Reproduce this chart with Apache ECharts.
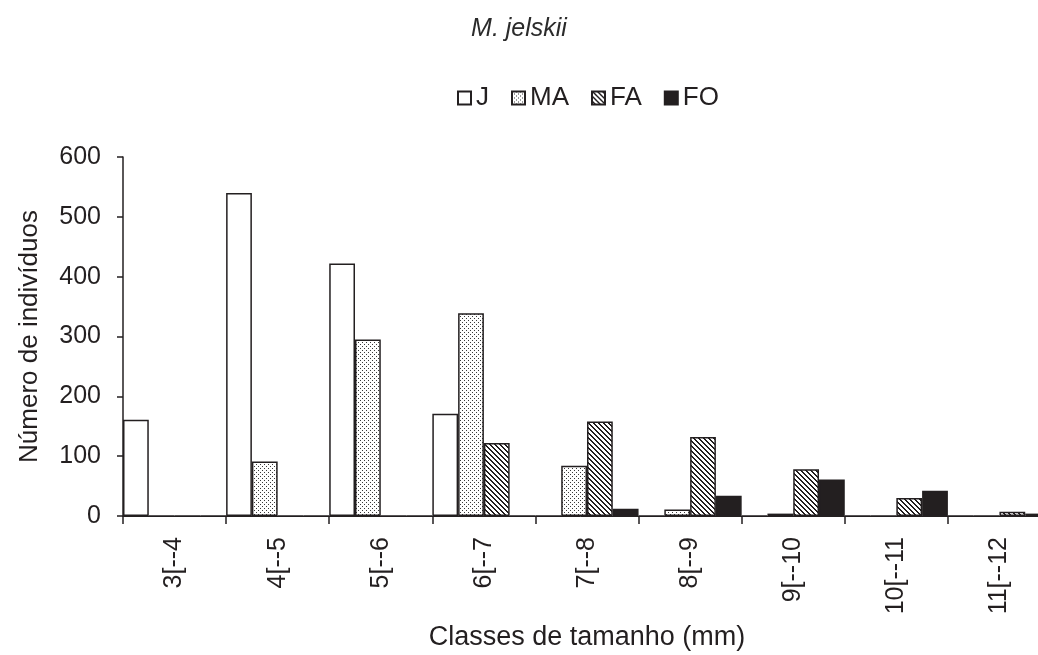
<!DOCTYPE html>
<html>
<head>
<meta charset="utf-8">
<script src="https://cdn.jsdelivr.net/npm/echarts@6/dist/echarts.min.js"></script>
<style>
  html, body { margin: 0; padding: 0; background: #fff; }
  #chart { width: 1038px; height: 655px; }
</style>
</head>
<body>
<div id="chart"></div>
<script>
// Size classes (mm) and number of individuals per class, M. jelskii
const categories = ['3[--4', '4[--5', '5[--6', '6[--7', '7[--8', '8[--9', '9[--10', '10[--11', '11[--12'];
const juvenis = [161, 540, 422, 171, 0, 0, 0, 0, 0];        // J
const machosAdultos = [0, 91, 295, 339, 84, 11, 4, 0, 0];   // MA
const femeasAdultas = [0, 0, 0, 122, 158, 132, 78, 30, 7];  // FA
const femeasOvigeras = [0, 0, 0, 0, 12, 34, 61, 42, 4];     // FO
const yTicks = { min: 0, max: 600, interval: 100 };

const INK = '#231f20';
const FONT = '"Liberation Sans", Arial, sans-serif';

// Small repeating tiles used as bar fills
function tile(size, paint) {
  const c = document.createElement('canvas');
  c.width = size; c.height = size;
  const ctx = c.getContext('2d');
  ctx.fillStyle = '#fff';
  ctx.fillRect(0, 0, size, size);
  paint(ctx, size);
  return c;
}
// fine stippled dots
const dotTile = tile(4, (ctx) => {
  ctx.fillStyle = '#3a3a3a';
  ctx.fillRect(0, 0, 1, 1);
  ctx.fillRect(2, 2, 1, 1);
});
// diagonal hatch running from upper-left to lower-right
const hatchTile = tile(5, (ctx, n) => {
  ctx.fillStyle = INK;
  for (let x = 0; x < n; x++) {
    for (let y = 0; y < n; y++) {
      if (((x - y) % n + n) % n < 2) ctx.fillRect(x, y, 1, 1);
    }
  }
});

function barSeries(name, data, fill) {
  return {
    name: name,
    type: 'bar',
    data: data,
    barGap: '0%',
    barCategoryGap: '0%',
    itemStyle: { color: fill, borderColor: INK, borderWidth: 1.5 },
    emphasis: { disabled: true }
  };
}

const chart = echarts.init(document.getElementById('chart'), null, { renderer: 'canvas' });
chart.setOption({
  animation: false,
  backgroundColor: '#fff',
  textStyle: { fontFamily: FONT, color: INK },
  title: {
    text: 'M. jelskii',
    left: 'center',
    top: 12,
    textStyle: { fontFamily: FONT, fontStyle: 'italic', fontWeight: 'normal', fontSize: 25, color: '#2b2b2b' }
  },
  legend: {
    left: 452,
    top: 80,
    icon: 'rect',
    itemWidth: 13,
    itemHeight: 13,
    itemGap: 22,
    textStyle: { fontFamily: FONT, fontSize: 26, color: INK },
    data: ['J', 'MA', 'FA', 'FO']
  },
  grid: { left: 123, right: -13, top: 157, bottom: 139, containLabel: false, outerBoundsMode: 'none' },
  xAxis: {
    type: 'category',
    data: categories,
    name: 'Classes de tamanho (mm)',
    nameLocation: 'middle',
    nameGap: 108,
    nameTextStyle: { fontFamily: FONT, fontSize: 27, color: INK },
    axisLine: { lineStyle: { color: INK, width: 1 } },
    axisTick: { show: true, length: 8, lineStyle: { color: INK, width: 1.5 } },
    axisLabel: { rotate: 90, margin: 21, fontFamily: FONT, fontSize: 25, color: INK, interval: 0 },
    splitLine: { show: false }
  },
  yAxis: {
    type: 'value',
    min: yTicks.min,
    max: yTicks.max,
    interval: yTicks.interval,
    name: 'Número de indivíduos',
    nameLocation: 'middle',
    nameGap: 80,
    nameTextStyle: { fontFamily: FONT, fontSize: 26, color: INK },
    axisLine: { show: true, lineStyle: { color: INK, width: 1.5 } },
    axisTick: { show: true, inside: false, length: 6, lineStyle: { color: INK, width: 1.5 } },
    axisLabel: { margin: 22, fontFamily: FONT, fontSize: 25, color: INK },
    splitLine: { show: false }
  },
  series: [
    barSeries('J', juvenis, '#ffffff'),
    barSeries('MA', machosAdultos, { image: dotTile, repeat: 'repeat' }),
    barSeries('FA', femeasAdultas, { image: hatchTile, repeat: 'repeat' }),
    barSeries('FO', femeasOvigeras, INK)
  ]
});
</script>
</body>
</html>
